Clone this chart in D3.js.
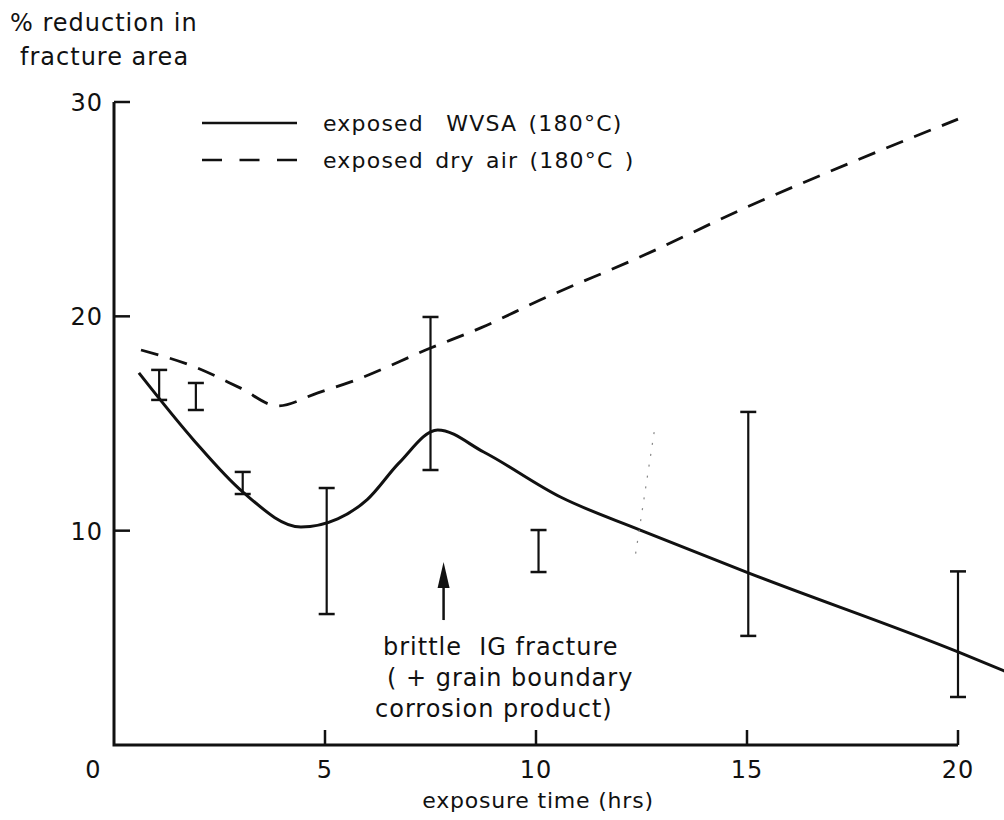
<!DOCTYPE html>
<html>
<head>
<meta charset="utf-8">
<script src="https://cdn.jsdelivr.net/npm/d3@7/dist/d3.min.js"></script>
<style>
  html, body { margin: 0; padding: 0; background: #fff; }
  svg { display: block; }
  text { font-family: "DejaVu Sans", sans-serif; fill: #111; }
</style>
</head>
<body>
<svg id="chart" width="1004" height="820"></svg>
<script>
// Exposure time (hrs) vs % reduction in fracture area
const xTicks = [5, 10, 15, 20];
const yTicks = [10, 20, 30];
const xTickLabels = ["5", "10", "15", "20"];
const yTickLabels = ["10", "20", "30"];

// Fitted curve, specimens exposed in WVSA at 180°C
const wvsaX = [0.59, 1.9, 3.05, 4.43, 5.3, 6.0, 6.75, 7.67, 8.76, 10.58, 12.47, 15.03, 20.0, 21.1];
const wvsaY = [17.36, 14.2, 11.81, 10.17, 10.55, 11.45, 13.15, 14.70, 13.67, 11.57, 10.03, 8.03, 4.34, 3.45];

// Fitted curve, specimens exposed in dry air at 180°C
const dryX = [0.64, 1.9, 3.0, 3.88, 4.83, 5.61, 7.50, 8.69, 10.11, 12.5, 15.0, 17.5, 20.0];
const dryY = [18.43, 17.65, 16.65, 15.82, 16.43, 16.94, 18.52, 19.46, 20.77, 22.8, 25.1, 27.2, 29.2];

// Scatter bands (min / max) at each exposure time
const barX = [1.07, 1.94, 3.05, 5.04, 7.50, 10.06, 15.03, 20.0];
const barLow = [16.1, 15.63, 11.71, 6.11, 12.83, 8.07, 5.09, 2.24];
const barHigh = [17.5, 16.89, 12.74, 11.99, 19.97, 10.03, 15.54, 8.1];

// Faint dotted trace crossing the WVSA curve
const traceX = [12.8, 12.33];
const traceY = [14.6, 8.53];

// Arrow pointing at the brittle IG fracture region
const arrowX = 7.81;
const arrowY = [5.83, 8.54];

const annotation = ["brittle  IG fracture", "( + grain boundary", "corrosion product)"];
const legendLabels = ["exposed  WVSA (180°C)", "exposed dry air (180°C )"];

const svg = d3.select("#chart");
const x = d3.scaleLinear().domain([0, 20]).range([114, 958]);
const y = d3.scaleLinear().domain([0, 30]).range([745, 102]);

// Axes: open frame, ticks pointing inward
const axisG = svg.append("g");
axisG.append("path")
  .attr("d", `M${x(0)},${y(30)} L${x(0)},${y(0)} L${x(20)},${y(0)}`)
  .attr("fill", "none").attr("stroke", "#111").attr("stroke-width", 3);

axisG.selectAll(".yt").data(yTicks).join("line")
  .attr("x1", x(0)).attr("x2", x(0) + 16)
  .attr("y1", d => y(d)).attr("y2", d => y(d))
  .attr("stroke", "#111").attr("stroke-width", 2.5);

axisG.selectAll(".xt").data(xTicks).join("line")
  .attr("x1", d => x(d)).attr("x2", d => x(d))
  .attr("y1", y(0)).attr("y2", y(0) - 15)
  .attr("stroke", "#111").attr("stroke-width", 2.5);

axisG.selectAll(".ytl").data(yTicks).join("text")
  .attr("x", x(0) - 11).attr("y", d => y(d) + 9)
  .attr("text-anchor", "end").attr("font-size", 24).attr("letter-spacing", 1)
  .text((d, i) => yTickLabels[i]);

axisG.selectAll(".xtl").data(xTicks).join("text")
  .attr("x", d => x(d)).attr("y", 778)
  .attr("text-anchor", "middle").attr("font-size", 24).attr("letter-spacing", 1)
  .text((d, i) => xTickLabels[i]);

axisG.append("text").attr("x", 93).attr("y", 778)
  .attr("text-anchor", "middle").attr("font-size", 24).text("0");

// Axis titles
svg.append("text").attr("x", 10).attr("y", 31)
  .attr("font-size", 24).attr("letter-spacing", 1).text("% reduction in");
svg.append("text").attr("x", 20).attr("y", 65)
  .attr("font-size", 24).attr("letter-spacing", 1).text("fracture area");
svg.append("text").attr("x", 538).attr("y", 808)
  .attr("text-anchor", "middle").attr("font-size", 22).attr("letter-spacing", 0.8)
  .text("exposure time (hrs)");

// Curves
const line = d3.line().x(d => x(d[0])).y(d => y(d[1])).curve(d3.curveMonotoneX);

svg.append("path")
  .datum(dryX.map((v, i) => [v, dryY[i]]))
  .attr("d", line).attr("fill", "none")
  .attr("stroke", "#111").attr("stroke-width", 2.8)
  .attr("stroke-dasharray", "18,12");

svg.append("path")
  .datum(wvsaX.map((v, i) => [v, wvsaY[i]]))
  .attr("d", line).attr("fill", "none")
  .attr("stroke", "#111").attr("stroke-width", 3);

// Scatter bands
const bars = svg.append("g").attr("stroke", "#111");
barX.forEach((bx, i) => {
  bars.append("line").attr("x1", x(bx)).attr("x2", x(bx))
    .attr("y1", y(barLow[i])).attr("y2", y(barHigh[i])).attr("stroke-width", 2.2);
  [barLow[i], barHigh[i]].forEach(v => {
    bars.append("line").attr("x1", x(bx) - 8).attr("x2", x(bx) + 8)
      .attr("y1", y(v)).attr("y2", y(v)).attr("stroke-width", 2.5);
  });
});

// Faint dotted trace
svg.append("line")
  .attr("x1", x(traceX[0])).attr("y1", y(traceY[0]))
  .attr("x2", x(traceX[1])).attr("y2", y(traceY[1]))
  .attr("stroke", "#888").attr("stroke-width", 1.2)
  .attr("stroke-dasharray", "2,9");

// Arrow
const ax = x(arrowX), aTail = y(arrowY[0]), aTip = y(arrowY[1]);
svg.append("line").attr("x1", ax).attr("x2", ax)
  .attr("y1", aTail).attr("y2", aTip + 20)
  .attr("stroke", "#111").attr("stroke-width", 2.5);
svg.append("path")
  .attr("d", `M${ax},${aTip} L${ax - 6},${aTip + 26} L${ax + 6},${aTip + 26} Z`)
  .attr("fill", "#111");

// Annotation text
const annX = [383, 387, 375];
annotation.forEach((t, i) => {
  svg.append("text").attr("x", annX[i]).attr("y", 655 + i * 31)
    .attr("font-size", 24).attr("letter-spacing", 1)
    .style("white-space", "pre")
    .text(t);
});

// Legend
const leg = svg.append("g");
leg.append("line").attr("x1", 202).attr("x2", 297).attr("y1", 123).attr("y2", 123)
  .attr("stroke", "#111").attr("stroke-width", 2.5);
leg.append("line").attr("x1", 202).attr("x2", 297).attr("y1", 160).attr("y2", 160)
  .attr("stroke", "#111").attr("stroke-width", 2.5)
  .attr("stroke-dasharray", "20,17.5");
legendLabels.forEach((t, i) => {
  leg.append("text").attr("x", 323).attr("y", 131 + i * 37)
    .attr("font-size", 22).attr("letter-spacing", 1.2).attr("word-spacing", 3)
    .style("white-space", "pre")
    .text(t);
});
</script>
</body>
</html>
